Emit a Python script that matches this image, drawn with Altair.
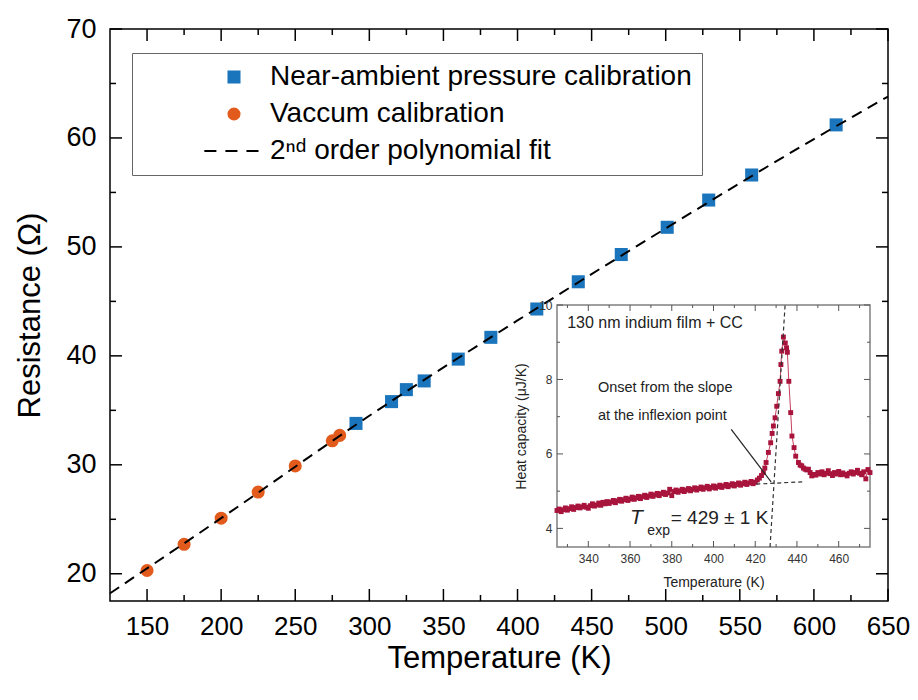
import altair as alt
import pandas as pd

# ---------------- main chart data ----------------
vac_T = [150, 175, 200, 225, 250, 275, 280]
vac_R = [20.3, 22.7, 25.1, 27.5, 29.9, 32.2, 32.7]
amb_T = [291, 315, 325, 337, 360, 382, 413, 441, 470, 501, 529, 558, 615]
amb_R = [33.8, 35.8, 36.9, 37.7, 39.7, 41.7, 44.3, 46.8, 49.3, 51.8, 54.3, 56.6, 61.2]
fit_T = [125, 200, 300, 400, 500, 600, 650]
fit_R = [18.2, 25.1, 34.5, 43.25, 51.7, 59.9, 63.8]

series_names = ["Near-ambient pressure calibration", "Vaccum calibration",
                "2\u207f\u1d48 order polynomial fit"]

x_major = [150, 200, 250, 300, 350, 400, 450, 500, 550, 600, 650]
x_minor = [175, 225, 275, 325, 375, 425, 475, 525, 575, 625]
y_major = [20, 30, 40, 50, 60, 70]
y_minor = [25, 35, 45, 55, 65]
x_dom = [125, 650]
y_dom = [17.5, 70]

# ---------------- inset data ----------------
ins_T_base = [325, 326, 327, 328, 329, 330, 331, 332, 333, 334,
              335, 336, 337, 338, 339, 340, 341, 342, 343, 344,
              345, 346, 347, 348, 349, 350, 351, 352, 353, 354,
              355, 356, 357, 358, 359, 360, 361, 362, 363, 364,
              365, 366, 367, 368, 369, 370, 371, 372, 373, 374,
              375, 376, 377, 378, 379, 380, 381, 382, 383, 384,
              385, 386, 387, 388, 389, 390, 391, 392, 393, 394,
              395, 396, 397, 398, 399, 400, 401, 402, 403, 404,
              405, 406, 407, 408, 409, 410, 411, 412, 413, 414,
              415, 416, 417, 418, 419, 420, 421, 422]
ins_C_base = [4.48, 4.52, 4.45, 4.50, 4.55, 4.49, 4.53, 4.58, 4.51, 4.56,
              4.60, 4.55, 4.58, 4.62, 4.57, 4.54, 4.61, 4.66, 4.60, 4.63,
              4.68, 4.62, 4.70, 4.66, 4.72, 4.67, 4.71, 4.75, 4.69, 4.74,
              4.78, 4.73, 4.77, 4.81, 4.75, 4.79, 4.84, 4.78, 4.82, 4.86,
              4.80, 4.85, 4.89, 4.83, 4.87, 4.92, 4.86, 4.90, 4.94, 4.88,
              4.93, 4.97, 4.91, 4.95, 5.05, 4.88, 4.99, 5.03, 4.97, 5.01,
              5.05, 4.99, 5.03, 5.07, 5.01, 5.05, 5.09, 5.03, 5.07, 5.11,
              5.05, 5.09, 5.13, 5.06, 5.10, 5.14, 5.08, 5.12, 5.16, 5.10,
              5.14, 5.18, 5.12, 5.16, 5.20, 5.14, 5.18, 5.22, 5.16, 5.20,
              5.24, 5.18, 5.22, 5.26, 5.20, 5.24, 5.30, 5.35]
ins_T_peak = [423.0, 423.9, 424.6, 425.2, 426.3, 427.4, 428.1, 428.7, 429.5, 430.3,
              431.1, 431.9, 432.3, 432.7, 433.5, 434.4, 435.0, 435.4, 436.1, 437.0,
              437.6, 438.6, 439.4, 440.7, 441.5, 442.3, 443.1, 443.9, 444.7, 445.5,
              446.3, 447.1]
ins_C_peak = [5.42, 5.50, 5.62, 5.77, 6.04, 6.30, 6.55, 6.75, 6.97, 7.28,
              7.62, 7.95, 8.40, 8.76, 9.14, 8.98, 8.85, 8.73, 7.95, 7.11,
              6.48, 6.17, 5.94, 5.77, 5.70, 5.68, 5.62, 5.59, 5.57, 5.59,
              5.50, 5.41]
ins_T_tail = [448, 449, 450, 451, 452, 453, 454, 455, 456, 457,
              458, 459, 460, 461, 462, 463, 464, 465, 466, 467,
              468, 469, 470, 471, 472, 473, 474, 475]
ins_C_tail = [5.45, 5.43, 5.50, 5.46, 5.52, 5.44, 5.48, 5.55, 5.47, 5.42,
              5.50, 5.46, 5.53, 5.44, 5.49, 5.45, 5.41, 5.48, 5.52, 5.46,
              5.50, 5.56, 5.48, 5.44, 5.52, 5.33, 5.58, 5.50]

tangent_T = [427.1, 434.3]
tangent_C = [3.5, 10.0]
baseline_T = [420.5, 442.5]
baseline_C = [5.19, 5.25]
arrow_T = [408.5, 427.6]
arrow_C = [6.66, 5.25]

ins_x_dom = [325, 475]
ins_y_dom = [3.5, 10]
ins_x_major = [340, 360, 380, 400, 420, 440, 460]
ins_x_minor = [330, 350, 370, 390, 410, 430, 450, 470]
ins_y_major = [4, 6, 8, 10]
ins_y_minor = [5, 7, 9]

# ---------------- styling ----------------
W, H = 778, 572
INS_L, INS_R, INS_TOP, INS_B = 447, 760, 276, 518
BLUE = "#1b75bc"
ORANGE = "#e25b1d"
CRIMSON = "#a8143c"
DASH_PATH = ("M-4.55,-0.16H-2.7V0.16H-4.55Z M-1.32,-0.16H0.53V0.16H-1.32Z "
             "M1.91,-0.16H3.76V0.16H1.91Z")

pts_df = pd.DataFrame({
    "T": amb_T + vac_T,
    "R": amb_R + vac_R,
    "series": [series_names[0]] * len(amb_T) + [series_names[1]] * len(vac_T),
})
fit_df = pd.DataFrame({"T": fit_T, "R": fit_R})
ins_df = pd.DataFrame({"T": ins_T_base + ins_T_peak + ins_T_tail,
                       "C": ins_C_base + ins_C_peak + ins_C_tail})
frame_df = pd.DataFrame({"T": [ins_x_dom[0]], "T2": [ins_x_dom[1]],
                         "C": [ins_y_dom[0]], "C2": [ins_y_dom[1]]})
tan_df = pd.DataFrame({"T": tangent_T, "C": tangent_C})
base_df = pd.DataFrame({"T": baseline_T, "C": baseline_C})
arrow_df = pd.DataFrame({"T": arrow_T, "C": arrow_C})


def axis(orient, **kw):
    d = dict(orient=orient, domain=False, grid=False, labels=False, ticks=False, title=None)
    d.update(kw)
    return alt.Axis(**d)


def tick_layer(values, side, length, xsc, ysc, box, color, width):
    """Inward tick marks along one side of a frame; positions come from the scale."""
    x0, x1, y0, y1 = box
    df = pd.DataFrame({"T" if side in ("bottom", "top") else "V": values})
    m = alt.Chart(df).mark_rule(color=color, strokeWidth=width)
    if side == "bottom":
        return m.encode(x=alt.X("T:Q", scale=xsc, axis=None), y=alt.value(y1), y2=alt.value(y1 - length))
    if side == "top":
        return m.encode(x=alt.X("T:Q", scale=xsc, axis=None), y=alt.value(y0), y2=alt.value(y0 + length))
    if side == "left":
        return m.encode(y=alt.Y("V:Q", scale=ysc, axis=None), x=alt.value(x0), x2=alt.value(x0 + length))
    return m.encode(y=alt.Y("V:Q", scale=ysc, axis=None), x=alt.value(x1), x2=alt.value(x1 - length))


xs = alt.Scale(domain=x_dom, nice=False, zero=False)
ys = alt.Scale(domain=y_dom, nice=False, zero=False)

leg = alt.Legend(orient="none", legendX=22, legendY=24, title=None,
                 labelFontSize=28, labelColor="black", labelLimit=0,
                 strokeColor="#666", fillColor="white", padding=10,
                 rowPadding=9, symbolSize=170, symbolOffset=78, labelOffset=22,
                 symbolStrokeWidth=0)

pts = alt.Chart(pts_df).mark_point(filled=True, size=170, opacity=1).encode(
    x=alt.X("T:Q", scale=xs, axis=None),
    y=alt.Y("R:Q", scale=ys, axis=None),
    color=alt.Color("series:N", scale=alt.Scale(domain=series_names, range=[BLUE, ORANGE, "black"]), legend=leg),
    shape=alt.Shape("series:N", scale=alt.Scale(domain=series_names, range=["square", "circle", DASH_PATH]), legend=leg),
)

fit = alt.Chart(fit_df).mark_line(color="black", strokeWidth=2, strokeDash=[11, 7], interpolate="monotone").encode(
    x=alt.X("T:Q", scale=xs, axis=axis("bottom", labels=True, values=x_major, labelFontSize=26,
                                        labelPadding=12, labelColor="black", labelFlush=False,
                                        title="Temperature (K)",
                                        titleFontSize=31, titleFontWeight="normal", titlePadding=4,
                                        titleColor="black")),
    y=alt.Y("R:Q", scale=ys, axis=axis("left", labels=True, values=y_major, labelFontSize=27,
                                        labelPadding=14, labelColor="black", labelFlush=False,
                                        title="Resistance (\u03a9)",
                                        titleFontSize=31, titleFontWeight="normal", titlePadding=19,
                                        titleColor="black")),
)

main_box = (0, W, 0, H)
main_ticks = []
for side in ("bottom", "top"):
    main_ticks.append(tick_layer(x_major, side, 12, xs, ys, main_box, "black", 1.5))
    main_ticks.append(tick_layer(x_minor, side, 6, xs, ys, main_box, "black", 1.5))
for side in ("left", "right"):
    main_ticks.append(tick_layer(y_major, side, 12, xs, ys, main_box, "black", 1.5))
    main_ticks.append(tick_layer(y_minor, side, 6, xs, ys, main_box, "black", 1.5))

main = alt.layer(pts, fit, *main_ticks).resolve_axis(x="independent", y="independent")

# ---------------- inset ----------------
xi = alt.Scale(domain=ins_x_dom, range=[INS_L, INS_R], nice=False, zero=False)
yi = alt.Scale(domain=ins_y_dom, range=[INS_B, INS_TOP], nice=False, zero=False)
TC = "#555555"

frame = alt.Chart(frame_df).mark_rect(fill="white", stroke="#808080", strokeWidth=1.5).encode(
    x=alt.X("T:Q", scale=xi, axis=axis("bottom", offset=INS_B - H, labels=True, values=ins_x_major,
                                        labelFontSize=12, labelPadding=6, labelColor="#333",
                                        labelFlush=False,
                                        title="Temperature (K)", titleFontSize=14, titleFontWeight="normal",
                                        titlePadding=11, titleColor="#222", zindex=1)),
    x2="T2:Q",
    y=alt.Y("C:Q", scale=yi, axis=axis("left", offset=-INS_L, labels=True, values=ins_y_major,
                                        labelFontSize=12, labelPadding=5, labelColor="#333",
                                        labelFlush=False,
                                        title="Heat capacity (\u03bcJ/K)", titleFontSize=14,
                                        titleFontWeight="normal", titlePadding=10, titleColor="#222",
                                        zindex=1)),
    y2="C2:Q",
)
red_line = alt.Chart(ins_df).mark_line(color="#c4405e", strokeWidth=1).encode(
    x=alt.X("T:Q", scale=xi, axis=None),
    y=alt.Y("C:Q", scale=yi, axis=None),
)
red_pts = alt.Chart(ins_df).mark_square(size=24, color=CRIMSON, opacity=1).encode(
    x=alt.X("T:Q", scale=xi, axis=None),
    y=alt.Y("C:Q", scale=yi, axis=None),
)
tangent = alt.Chart(tan_df).mark_line(color="#333", strokeWidth=1.2, strokeDash=[4, 3]).encode(
    x=alt.X("T:Q", scale=xi, axis=None),
    y=alt.Y("C:Q", scale=yi, axis=None),
)
baseline = alt.Chart(base_df).mark_line(color="#333", strokeWidth=1.2, strokeDash=[4, 3]).encode(
    x=alt.X("T:Q", scale=xi, axis=None),
    y=alt.Y("C:Q", scale=yi, axis=None),
)
arrow = alt.Chart(arrow_df).mark_line(color="#222", strokeWidth=1.2).encode(
    x=alt.X("T:Q", scale=xi, axis=None),
    y=alt.Y("C:Q", scale=yi, axis=None),
)

txt_df = pd.DataFrame({
    "T": [329.9, 344.6, 344.6],
    "C": [9.52, 7.78, 7.03],
    "label": ["130 nm indium film + CC", "Onset from the slope", "at the inflexion point"],
    "fs": [16, 14.5, 14.5],
})
texts = alt.Chart(txt_df).mark_text(align="left", baseline="middle", color="#222").encode(
    x=alt.X("T:Q", scale=xi, axis=None),
    y=alt.Y("C:Q", scale=yi, axis=None),
    text="label:N",
    size=alt.Size("fs:Q", scale=None, legend=None),
)
t_italic = alt.Chart(pd.DataFrame({"T": [360.0], "C": [4.27], "label": ["T"]})).mark_text(
    align="left", baseline="middle", fontSize=21, fontStyle="italic", color="#222").encode(
    x=alt.X("T:Q", scale=xi, axis=None), y=alt.Y("C:Q", scale=yi, axis=None), text="label:N")
t_sub = alt.Chart(pd.DataFrame({"T": [368.3], "C": [3.93], "label": ["exp"]})).mark_text(
    align="left", baseline="middle", fontSize=14, color="#222").encode(
    x=alt.X("T:Q", scale=xi, axis=None), y=alt.Y("C:Q", scale=yi, axis=None), text="label:N")
t_val = alt.Chart(pd.DataFrame({"T": [379.5], "C": [4.27], "label": ["= 429 \u00b1 1 K"]})).mark_text(
    align="left", baseline="middle", fontSize=19, color="#222").encode(
    x=alt.X("T:Q", scale=xi, axis=None), y=alt.Y("C:Q", scale=yi, axis=None), text="label:N")

ins_box = (INS_L, INS_R, INS_TOP, INS_B)
ins_ticks = []
for side in ("bottom", "top"):
    ins_ticks.append(tick_layer(ins_x_major, side, 6, xi, yi, ins_box, TC, 1))
    ins_ticks.append(tick_layer(ins_x_minor, side, 3, xi, yi, ins_box, TC, 1))
for side in ("left", "right"):
    ins_ticks.append(tick_layer(ins_y_major, side, 6, xi, yi, ins_box, TC, 1))
    ins_ticks.append(tick_layer(ins_y_minor, side, 3, xi, yi, ins_box, TC, 1))

inset = alt.layer(frame, *ins_ticks, red_line, red_pts, tangent, baseline, arrow, texts,
                  t_italic, t_sub, t_val).resolve_axis(x="independent", y="independent")

chart = alt.layer(main, inset).resolve_scale(x="independent", y="independent").properties(
    width=W, height=H,
    padding={"left": 102, "top": 21, "right": 22, "bottom": 80},
    autosize=alt.AutoSizeParams(type="none"),
).configure(font="Liberation Sans").configure_view(stroke="black", strokeWidth=1.5)

chart.save("out.html", embed_options={"renderer": "svg", "actions": False})
